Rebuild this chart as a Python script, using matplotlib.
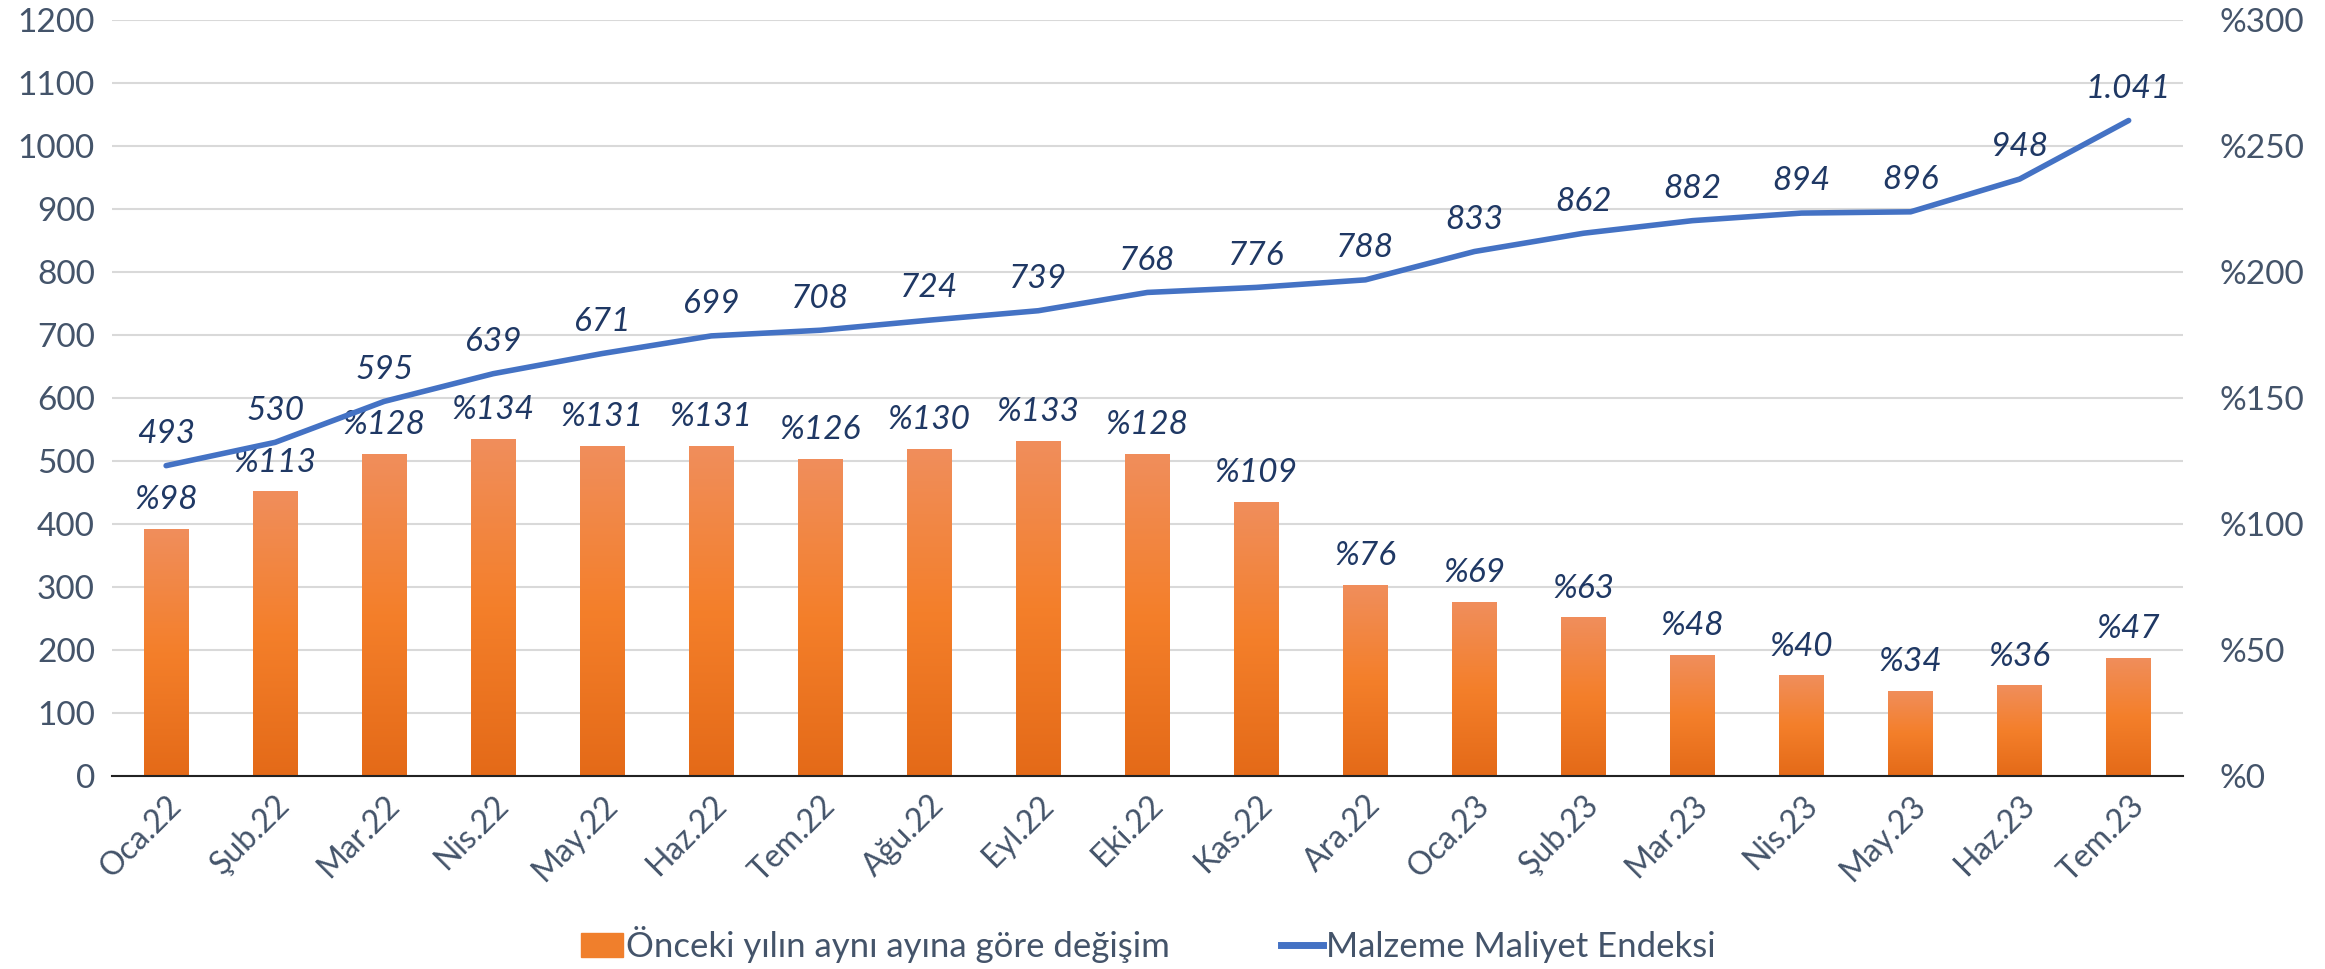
import numpy as np
import matplotlib.pyplot as plt
from matplotlib.colors import LinearSegmentedColormap

months = ['Oca.22', 'Şub.22', 'Mar.22', 'Nis.22', 'May.22', 'Haz.22', 'Tem.22',
          'Ağu.22', 'Eyl.22', 'Eki.22', 'Kas.22', 'Ara.22', 'Oca.23', 'Şub.23',
          'Mar.23', 'Nis.23', 'May.23', 'Haz.23', 'Tem.23']
yoy_change = [98, 113, 128, 134, 131, 131, 126, 130, 133, 128, 109, 76, 69, 63,
              48, 40, 34, 36, 47]
cost_index = [493, 530, 595, 639, 671, 699, 708, 724, 739, 768, 776, 788, 833,
              862, 882, 894, 896, 948, 1041]
index_labels = ['493', '530', '595', '639', '671', '699', '708', '724', '739',
                '768', '776', '788', '833', '862', '882', '894', '896', '948',
                '1.041']

plt.rcParams['font.family'] = ['Lato', 'DejaVu Sans']
TICK_C = '#44546A'
LABEL_C = '#1F3864'
BLUE = '#4472C4'
FS = 24

fig = plt.figure(figsize=(23.25, 9.69), dpi=100)
ax = fig.add_axes([0.048, 0.199, 0.891, 0.780])
x = np.arange(len(months))

# bars live on the percent axis (right side), line on the index axis (left)
bars = ax.bar(x, yoy_change, width=0.41, color='#F07F2C', zorder=2)
grad = LinearSegmentedColormap.from_list('g', ['#E46A18', '#F47F2A', '#F08E5C'])
for b in bars:
    b.set_alpha(0)
    x0, y0 = b.get_x(), b.get_y()
    im = ax.imshow(np.linspace(0, 1, 256).reshape(-1, 1), cmap=grad, origin='lower',
                   aspect='auto', extent=[x0, x0 + b.get_width(), y0, y0 + b.get_height()],
                   zorder=2)
    im.set_clip_path(b)

ax.set_xlim(-0.5, len(months) - 0.5)
ax.set_ylim(0, 300)
ax.set_yticks(np.arange(0, 301, 25))
ax.set_yticklabels(['%' + str(v) if v % 50 == 0 else '' for v in range(0, 301, 25)])
ax.grid(axis='y', color='#D9D9D9', lw=1.5, zorder=0)
ax.set_axisbelow(True)
ax.set_xticks(x)
ax.set_xticklabels(months, rotation=45, ha='right', rotation_mode='anchor')
ax.tick_params(axis='x', length=0, labelsize=FS - 1, labelcolor=TICK_C, pad=10)
for s in ['top', 'right', 'left']:
    ax.spines[s].set_visible(False)
ax.spines['bottom'].set_color('#222222')
ax.spines['bottom'].set_linewidth(1.5)

for xi, v in zip(x, yoy_change):
    ax.annotate('%' + str(v), (xi, v), xytext=(0, 10), textcoords='offset points',
                ha='center', va='bottom', fontsize=FS, style='italic', color=LABEL_C)

ax2 = ax.twinx()
ax.yaxis.tick_right()
ax.tick_params(axis='y', length=0, labelsize=FS, labelcolor=TICK_C, pad=26)
ax2.yaxis.tick_left()
ax2.plot(x, cost_index, color=BLUE, lw=4, solid_capstyle='round', zorder=3)
ax2.set_ylim(0, 1200)
ax2.set_yticks(np.arange(0, 1201, 100))
ax2.tick_params(axis='y', length=0, labelsize=FS, labelcolor=TICK_C, pad=12)
for s in ax2.spines.values():
    s.set_visible(False)
for xi, v, t in zip(x, cost_index, index_labels):
    ax2.annotate(t, (xi, v), xytext=(0, 12), textcoords='offset points',
                 ha='center', va='bottom', fontsize=FS, style='italic', color=LABEL_C)

h1 = plt.Rectangle((0, 0), 1, 1, color='#F07F2C')
h2 = plt.Line2D([], [], color=BLUE, lw=5)
fig.legend([h1, h2], ['Önceki yılın aynı ayına göre değişim', 'Malzeme Maliyet Endeksi'],
           loc='center', bbox_to_anchor=(0.494, 0.025), ncol=2, frameon=False,
           fontsize=FS + 1, labelcolor=TICK_C, handlelength=1.2, handletextpad=0.1,
           columnspacing=3.2)

fig.savefig('out.png', dpi=100)
